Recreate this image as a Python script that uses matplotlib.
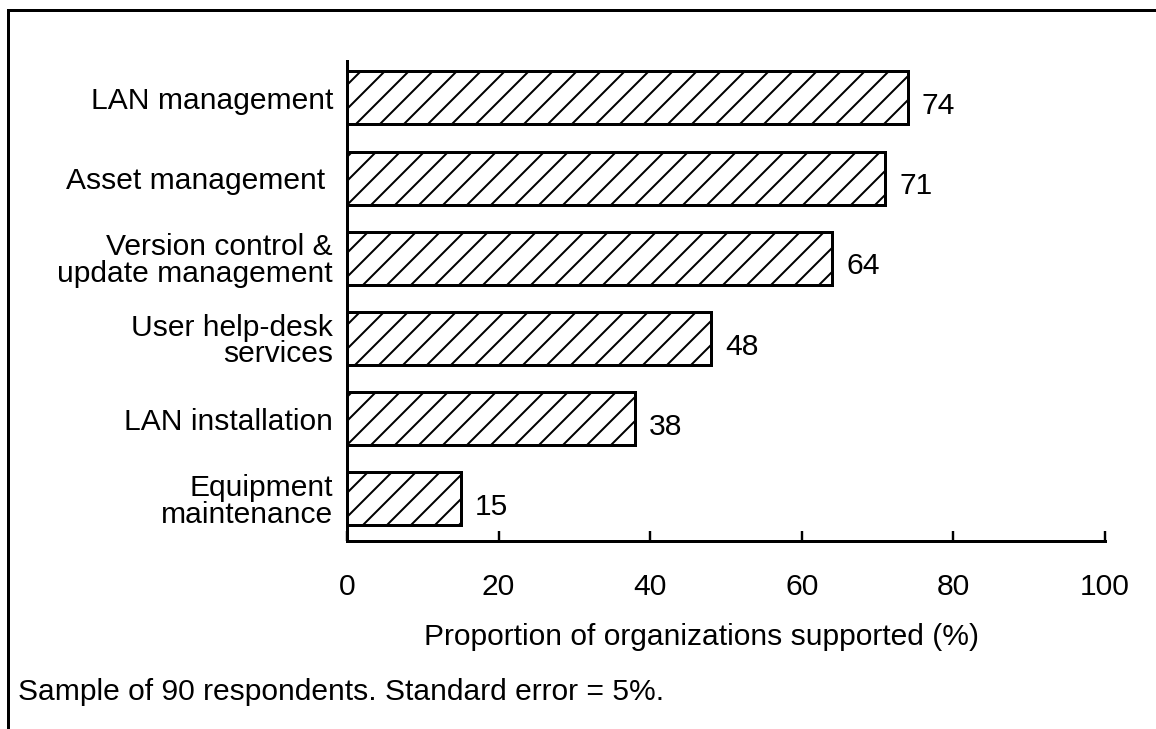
import matplotlib
matplotlib.use("Agg")
import matplotlib.pyplot as plt
from matplotlib.lines import Line2D

# ---------- data ----------
categories = ["Equipment\nmaintenance",
              "LAN installation",
              "User help-desk\nservices",
              "Version control &\nupdate management",
              "Asset management ",
              "LAN management"]
values = [15, 38, 48, 64, 71, 74]
x_ticks = [0, 20, 40, 60, 80, 100]
x_label = "Proportion of organizations supported (%)"
footnote = "Sample of 90 respondents. Standard error = 5%."
# --------------------------

plt.rcParams['font.family'] = ['Liberation Sans', 'DejaVu Sans']
plt.rcParams['hatch.linewidth'] = 1.0

DPI = 144
fig = plt.figure(figsize=(1156 / DPI, 729 / DPI), dpi=DPI)
ax = fig.add_axes([347 / 1156, 1 - 541 / 729, (1105 - 347) / 1156, (541 - 61) / 729])

pos = list(range(len(categories)))
ax.barh(pos, values, height=0.66, color='white', edgecolor='black',
        linewidth=1.5, hatch='//')

for p, v in zip(pos, values):
    ax.annotate(str(v), xy=(v, p), xytext=(7, -4), textcoords='offset points',
                ha='left', va='center', fontsize=15)

ax.set_xlim(0, 100)
ax.set_ylim(-0.524, 5.46)

ax.set_xticks(x_ticks)
ax.set_xticklabels([str(t) for t in x_ticks], fontsize=15)
ax.tick_params(axis='x', direction='in', length=5, width=1.2, pad=16)
ax.set_yticks(pos)
ax.set_yticklabels(categories, fontsize=15, linespacing=0.95)
ax.tick_params(axis='y', length=0, pad=7)

for side in ['top', 'right']:
    ax.spines[side].set_visible(False)
ax.spines['left'].set_linewidth(1.5)
ax.spines['bottom'].set_linewidth(1.5)

fig.text(702 / 1156, 1 - 637 / 729, x_label, ha='center', va='center', fontsize=15)
fig.text(18 / 1156, 1 - 692 / 729, footnote, ha='left', va='center', fontsize=15)

# page frame (top and left edges)
fig.add_artist(Line2D([8 / 1156, 1.0], [1 - 10 / 729, 1 - 10 / 729],
                      transform=fig.transFigure, color='black', linewidth=1.5))
fig.add_artist(Line2D([8 / 1156, 8 / 1156], [1 - 10 / 729, 0.0],
                      transform=fig.transFigure, color='black', linewidth=1.5))

fig.savefig("out.png", dpi=DPI, facecolor='white')
